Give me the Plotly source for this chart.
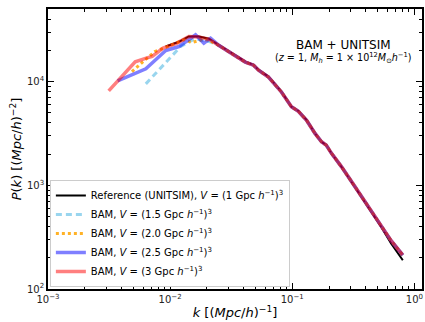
import plotly.graph_objects as go
import numpy as np

# ---- data (log10 k, log10 P) ----
ref_logk = [-2.036, -1.928, -1.847, -1.765, -1.684, -1.602, -1.496, -1.384, -1.317, -1.276,
            -1.195, -1.089, -1.007, -0.950, -0.883, -0.814, -0.761, -0.722, -0.679, -0.598,
            -0.489, -0.381, -0.272, -0.191, -0.095]
ref_logp = [4.338, 4.384, 4.435, 4.435, 4.413, 4.355, 4.277, 4.193, 4.161, 4.113,
            4.048, 3.903, 3.758, 3.717, 3.630, 3.501, 3.420, 3.388, 3.308, 3.179,
            2.986, 2.792, 2.599, 2.439, 2.277]

# shared high-k tail of the BAM runs (slightly above the reference at the end)
tail_logk = [-1.602, -1.496, -1.384, -1.317, -1.276, -1.195, -1.089, -1.007, -0.950, -0.883,
             -0.814, -0.761, -0.722, -0.679, -0.598, -0.489, -0.381, -0.272, -0.191, -0.095]
tail_logp = [4.350, 4.270, 4.188, 4.158, 4.110, 4.043, 3.900, 3.757, 3.714, 3.627,
             3.500, 3.420, 3.387, 3.308, 3.180, 2.990, 2.800, 2.612, 2.466, 2.326]

lb_logk = [-2.199, -1.914, -1.797, -1.683]
lb_logp = [3.978, 4.338, 4.413, 4.387]

or_logk = [-2.313, -2.270, -2.221, -2.172, -2.125, -2.068, -1.968, -1.887, -1.822, -1.740, -1.684]
or_logp = [4.097, 4.145, 4.193, 4.242, 4.290, 4.316, 4.364, 4.403, 4.377, 4.403, 4.400]

bl_logk = [-2.430, -2.199, -2.036, -1.928, -1.792, -1.724, -1.669]
bl_logp = [4.007, 4.123, 4.300, 4.338, 4.451, 4.371, 4.419]

rd_logk = [-2.503, -2.430, -2.286, -2.196, -2.147, -2.058, -1.944, -1.847, -1.765, -1.684]
rd_logp = [3.910, 4.007, 4.191, 4.226, 4.242, 4.323, 4.371, 4.435, 4.430, 4.410]

names = [
    "Reference (UNITSIM), <i>V</i> = (1 Gpc <i>h</i><sup>−1</sup>)<sup>3</sup>",
    "BAM, <i>V</i> = (1.5 Gpc <i>h</i><sup>−1</sup>)<sup>3</sup>",
    "BAM, <i>V</i> = (2.0 Gpc <i>h</i><sup>−1</sup>)<sup>3</sup>",
    "BAM, <i>V</i> = (2.5 Gpc <i>h</i><sup>−1</sup>)<sup>3</sup>",
    "BAM, <i>V</i> = (3 Gpc <i>h</i><sup>−1</sup>)<sup>3</sup>",
]

def full(lk, lp):
    k = list(lk) + tail_logk
    p = list(lp) + tail_logp
    return 10 ** np.array(k), 10 ** np.array(p)

fig = go.Figure()

series = [
    (lb_logk, lb_logp, dict(color="rgba(135,206,235,0.85)", width=3, dash="6px,4px"), names[1]),
    (or_logk, or_logp, dict(color="rgba(255,165,0,0.85)", width=3, dash="dot"), names[2]),
    (bl_logk, bl_logp, dict(color="rgba(0,0,255,0.5)", width=3.5), names[3]),
    (rd_logk, rd_logp, dict(color="rgba(255,0,0,0.5)", width=3.5), names[4]),
]

fig.add_trace(go.Scatter(x=10 ** np.array(ref_logk), y=10 ** np.array(ref_logp), mode="lines",
                         line=dict(color="black", width=2), name=names[0]))
for lk, lp, ln, nm in series:
    x, y = full(lk, lp)
    fig.add_trace(go.Scatter(x=x, y=y, mode="lines", line=ln, name=nm))

xmaj = [1e-3, 1e-2, 1e-1, 1e0]
xmaj_txt = ["10<sup>−3</sup>", "10<sup>−2</sup>", "10<sup>−1</sup>", "10<sup>0</sup>"]
ymaj = [1e2, 1e3, 1e4]
ymaj_txt = ["10<sup>2</sup>", "10<sup>3</sup>", "10<sup>4</sup>"]
xmin = [m * 10.0 ** e for e in range(-3, 1) for m in range(2, 10)]
ymin = [m * 10.0 ** e for e in range(2, 5) for m in range(2, 10)]

axis_common = dict(
    type="log", showgrid=False, zeroline=False, showline=True, linecolor="black", linewidth=1.8,
    mirror="ticks", ticks="inside", ticklen=6, tickwidth=1.2, tickcolor="black",
    tickfont=dict(family="DejaVu Sans", size=10, color="#222"),
)

fig.update_layout(
    width=425, height=322,
    margin=dict(l=48, r=1, t=9, b=33),
    paper_bgcolor="white", plot_bgcolor="white",
    font=dict(family="DejaVu Sans", color="black"),
    xaxis=dict(**axis_common, range=[-3, 0.062], tickmode="array", tickvals=xmaj, ticktext=xmaj_txt,
               minor=dict(tickmode="array", tickvals=xmin, ticks="inside", ticklen=3, tickwidth=1, tickcolor="black"),
               title=dict(text="<i>k</i> [(<i>Mpc</i>/<i>h</i>)<sup>−1</sup>]", font=dict(size=13), standoff=4)),
    yaxis=dict(**axis_common, range=[2, 4.70], tickmode="array", tickvals=ymaj, ticktext=ymaj_txt,
               minor=dict(tickmode="array", tickvals=ymin, ticks="inside", ticklen=3, tickwidth=1, tickcolor="black"),
               title=dict(text="<i>P</i>(<i>k</i>) [(<i>Mpc</i>/<i>h</i>)<sup>−2</sup>]", font=dict(size=13), standoff=2)),
    legend=dict(x=0.005, y=0.007, xanchor="left", yanchor="bottom", bgcolor="white",
                bordercolor="#cccccc", borderwidth=1, font=dict(size=10, family="DejaVu Sans"),
                itemwidth=30, traceorder="normal"),
    showlegend=True,
)

fig.add_annotation(x=0.79, y=0.872, xref="paper", yref="paper", showarrow=False,
                   xanchor="center", yanchor="middle",
                   text="BAM + UNITSIM", font=dict(size=12, family="DejaVu Sans"))
fig.add_annotation(x=0.79, y=0.826, xref="paper", yref="paper", showarrow=False,
                   xanchor="center", yanchor="middle",
                   text="(<i>z</i> = 1, <i>M<sub>h</sub></i> = 1 × 10<sup>12</sup><i>M</i><sub>⊙</sub><i>h</i><sup>−1</sup>)",
                   font=dict(size=9.6, family="DejaVu Sans"))

fig.write_html("out.html")
